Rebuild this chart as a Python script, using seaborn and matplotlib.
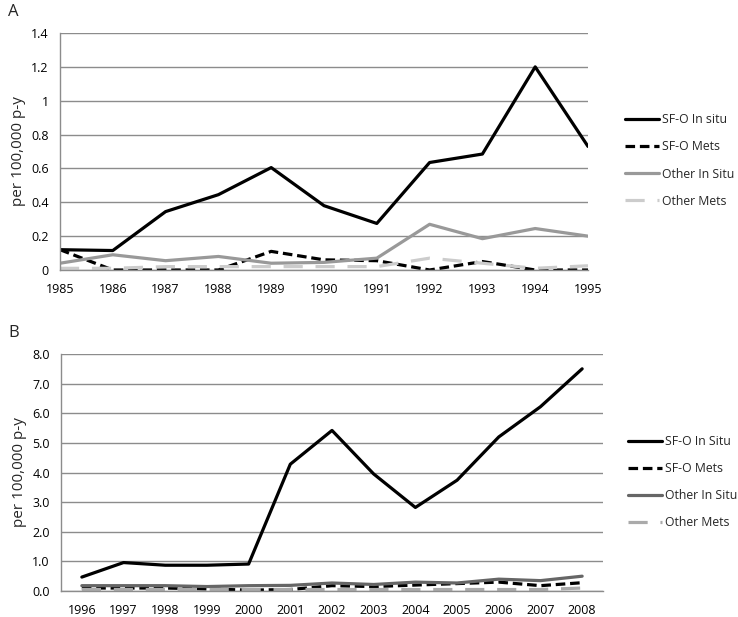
import numpy as np
import pandas as pd
import matplotlib
matplotlib.use("Agg")
import matplotlib.pyplot as plt
import seaborn as sns

# Panel A data (1985-1995)
years_a = [1985, 1986, 1987, 1988, 1989, 1990, 1991, 1992, 1993, 1994, 1995]
sfo_insitu_a = [0.12, 0.115, 0.345, 0.445, 0.605, 0.38, 0.275, 0.635, 0.685, 1.2, 0.73]
sfo_mets_a = [0.12, 0.0, 0.0, 0.0, 0.11, 0.06, 0.055, 0.0, 0.05, 0.0, 0.0]
other_insitu_a = [0.04, 0.09, 0.055, 0.08, 0.04, 0.045, 0.07, 0.27, 0.185, 0.245, 0.2]
other_mets_a = [0.01, 0.01, 0.02, 0.02, 0.02, 0.02, 0.02, 0.07, 0.04, 0.01, 0.025]
labels_a = ["SF-O In situ", "SF-O Mets", "Other In Situ", "Other Mets"]

# Panel B data (1996-2008)
years_b = ["1996", "1997", "1998", "1999", "2000", "2001", "2002", "2003", "2004",
           "2005", "2006", "2007", "2008"]
sfo_insitu_b = [0.47, 0.96, 0.87, 0.87, 0.91, 4.28, 5.42, 3.95, 2.82, 3.74, 5.2, 6.22, 7.5]
sfo_mets_b = [0.1, 0.1, 0.1, 0.07, 0.03, 0.05, 0.18, 0.15, 0.2, 0.25, 0.3, 0.18, 0.28]
other_insitu_b = [0.18, 0.18, 0.18, 0.15, 0.18, 0.19, 0.27, 0.22, 0.3, 0.27, 0.4, 0.35, 0.5]
other_mets_b = [0.05, 0.05, 0.05, 0.05, 0.05, 0.05, 0.05, 0.05, 0.05, 0.05, 0.05, 0.05, 0.1]
labels_b = ["SF-O In Situ", "SF-O Mets", "Other In Situ", "Other Mets"]

sns.set_style("white")
plt.rcParams['font.family'] = ['Open Sans', 'DejaVu Sans']

fig = plt.figure(figsize=(7.38, 6.17), dpi=100)
W, H = 738, 617
ax1 = fig.add_axes([60 / W, 1 - 270 / H, (588 - 60) / W, (270 - 33) / H])
ax2 = fig.add_axes([61 / W, 1 - 591 / H, (603 - 61) / W, (591 - 354) / H])

grid_c = "#8c8c8c"

# Panel A
styles_a = [("black", None), ("black", (3, 1.5)),
            ("#999999", None), ("#cccccc", (6, 4))]
series_a = [sfo_insitu_a, sfo_mets_a, other_insitu_a, other_mets_a]
for vals, lab, (c, dash) in zip(series_a, labels_a, styles_a):
    sns.lineplot(x=years_a, y=vals, ax=ax1, color=c, linewidth=2.3, label=lab)
    if dash is not None:
        ax1.get_lines()[-1].set_dashes(dash)
ax1.set_xlim(1985, 1995)
ax1.set_ylim(0, 1.4)
ax1.set_xticks(years_a)
ax1.set_xticklabels([str(y) for y in years_a])
ax1.set_yticks(np.arange(0, 1.41, 0.2))
ax1.set_yticklabels(["0", "0.2", "0.4", "0.6", "0.8", "1", "1.2", "1.4"])
ax1.set_ylabel("per 100,000 p-y", fontsize=11)

# Panel B
styles_b = [("black", None), ("black", (3, 1.5)),
            ("#666666", None), ("#aaaaaa", (6, 4))]
series_b = [sfo_insitu_b, sfo_mets_b, other_insitu_b, other_mets_b]
xpos = np.arange(len(years_b))
for vals, lab, (c, dash) in zip(series_b, labels_b, styles_b):
    sns.lineplot(x=xpos, y=vals, ax=ax2, color=c, linewidth=2.3, label=lab)
    if dash is not None:
        ax2.get_lines()[-1].set_dashes(dash)
ax2.set_xlim(-0.5, len(years_b) - 0.5)
ax2.set_ylim(0, 8)
ax2.set_xticks(xpos)
ax2.set_xticklabels(years_b)
ax2.set_xticks(np.arange(-0.5, len(years_b)), minor=True)
ax2.set_yticks(np.arange(0, 8.1, 1))
ax2.set_yticklabels([f"{v:.1f}" for v in np.arange(0, 8.1, 1)])
ax2.set_ylabel("per 100,000 p-y", fontsize=11)

for ax in (ax1, ax2):
    ax.grid(axis="y", color=grid_c, linewidth=1)
    ax.set_axisbelow(True)
    for s in ["top", "right"]:
        ax.spines[s].set_visible(False)
    for s in ["left", "bottom"]:
        ax.spines[s].set_color(grid_c)
        ax.spines[s].set_linewidth(1)
    ax.tick_params(axis="both", labelsize=9, colors="black")
    ax.tick_params(axis="y", length=4, color=grid_c, width=1, pad=4)
    ax.tick_params(axis="x", which="both", length=4, color=grid_c, width=1, pad=5)
    ax.set_xlabel("")

ax2.tick_params(axis="x", which="major", length=0, pad=9)

# legends placed outside, on the right
for ax, cy, x0 in [(ax1, 160.5, 620), (ax2, 482, 623)]:
    h, l = ax.get_legend_handles_labels()
    ax.get_legend().remove()
    fig.legend(h, l, loc="center left", bbox_to_anchor=(x0 / W, 1 - cy / H),
               frameon=False, fontsize=8.8, handlelength=2.8, handletextpad=0.25,
               labelspacing=1.15, borderaxespad=0)

fig.text(8 / W, 1 - 12 / H, "A", fontsize=12, va="center", ha="left")
fig.text(8 / W, 1 - 333 / H, "B", fontsize=12, va="center", ha="left")

fig.savefig("out.png", dpi=100)
